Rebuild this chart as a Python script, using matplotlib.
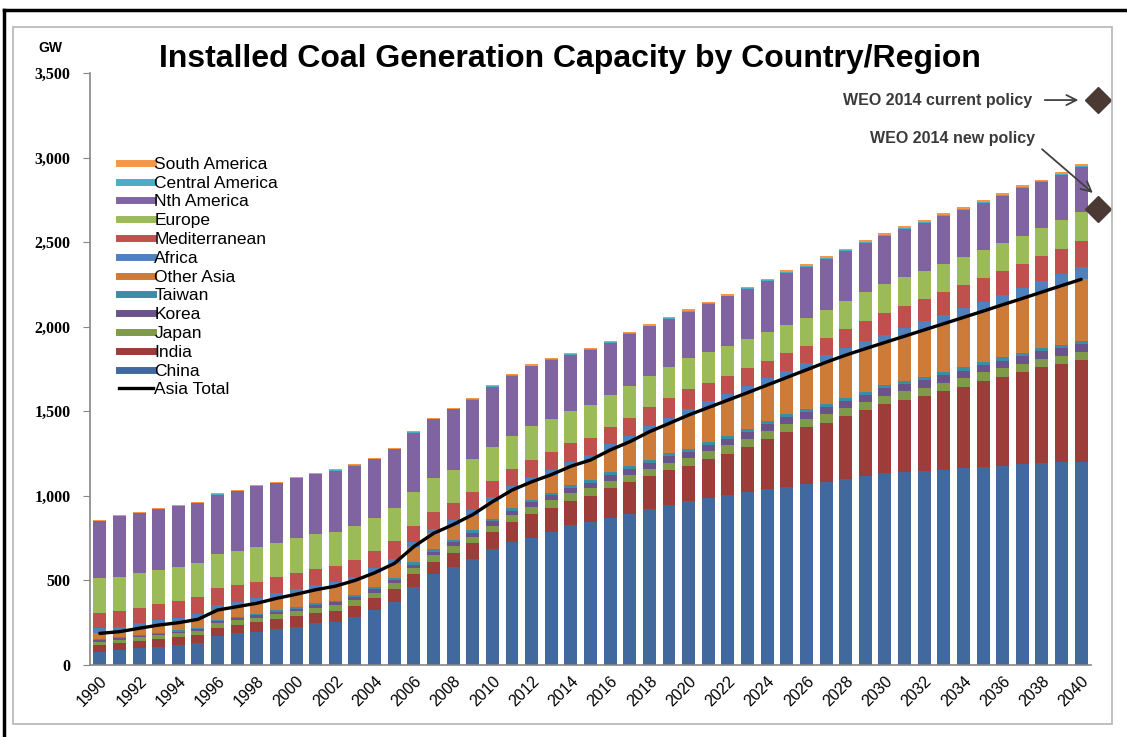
import matplotlib
matplotlib.use("Agg")
import matplotlib.pyplot as plt
from matplotlib.lines import Line2D
from matplotlib.patches import Rectangle
import numpy as np

# GW by year
years = list(range(1990, 2041))

china = [79, 89, 98, 108, 118, 128, 171, 187, 197, 213,
         227, 246, 256, 282, 325, 374, 463, 536, 577, 624,
         683, 729, 748, 788, 827, 847, 871, 895, 920, 946,
         969, 985, 1005, 1021, 1039, 1054, 1070, 1083, 1100, 1115,
         1137, 1140, 1145, 1152, 1162, 1168, 1175, 1190, 1195, 1198,
         1201]
india = [39, 40, 43, 44, 46, 48, 49, 50, 55, 57,
         60, 62, 64, 67, 69, 73, 73, 75, 87, 95,
         101, 114, 144, 143, 144, 152, 173, 185, 195, 204,
         208, 230, 245, 269, 296, 321, 335, 350, 370, 390,
         406, 428, 445, 468, 483, 512, 530, 540, 565, 582,
         602]
japan = [20, 21, 22, 23, 24, 25, 26, 27, 28, 29,
         30, 31, 32, 33, 34, 35, 36, 37, 38, 39,
         40, 41, 42, 43, 44, 45, 45, 46, 46, 47,
         47, 48, 48, 49, 49, 50, 50, 50, 50, 50,
         50, 50, 50, 50, 50, 50, 50, 50, 50, 49,
         49]
korea = [8, 8, 9, 9, 10, 11, 12, 13, 14, 15,
         15, 17, 18, 19, 20, 21, 22, 23, 24, 25,
         26, 27, 28, 29, 31, 32, 34, 35, 35, 36,
         36, 37, 37, 38, 38, 39, 40, 40, 41, 41,
         42, 42, 43, 43, 44, 44, 44, 45, 45, 45,
         45]
taiwan = [6, 6, 7, 7, 7, 8, 8, 9, 9, 10,
          10, 11, 11, 12, 12, 12, 13, 13, 14, 14,
          15, 15, 15, 16, 16, 16, 17, 17, 17, 18,
          18, 18, 19, 19, 19, 19, 20, 20, 20, 20,
          20, 20, 20, 20, 20, 20, 20, 20, 20, 20,
          20]
other_asia = [35, 33, 38, 45, 45, 50, 59, 59, 62, 70,
              76, 78, 85, 87, 85, 85, 93, 94, 90, 92,
              100, 108, 106, 106, 113, 120, 131, 142, 166, 177,
              200, 204, 212, 214, 214, 217, 230, 247, 251, 254,
              252, 264, 278, 285, 296, 298, 311, 322, 330, 349,
              363]
africa = [30, 30, 29, 29, 30, 30, 28, 28, 29, 29,
          29, 26, 22, 22, 26, 28, 28, 27, 30, 28,
          26, 25, 26, 27, 27, 32, 33, 34, 34, 35,
          35, 36, 37, 38, 39, 40, 41, 42, 43, 44,
          46, 48, 50, 52, 54, 56, 59, 62, 66, 70,
          75]
mediterranean = [88, 90, 92, 95, 98, 100, 100, 98, 97, 97,
                 98, 99, 100, 99, 103, 105, 94, 98, 98, 104,
                 94, 98, 103, 107, 108, 100, 105, 108, 110, 114,
                 118, 112, 108, 105, 103, 102, 102, 102, 110, 118,
                 126, 128, 130, 133, 136, 138, 140, 142, 145, 149,
                 153]
europe = [207, 205, 204, 203, 202, 201, 203, 202, 204, 203,
          203, 202, 200, 202, 197, 197, 201, 201, 197, 197,
          204, 197, 202, 197, 194, 192, 190, 189, 187, 185,
          183, 180, 177, 173, 170, 167, 165, 164, 168, 171,
          173, 171, 170, 168, 167, 167, 167, 167, 168, 168,
          168]
nth_america = [337, 356, 356, 357, 358, 356, 352, 353, 361, 352,
               355, 355, 359, 353, 344, 345, 350, 348, 356, 348,
               355, 355, 352, 349, 331, 327, 305, 306, 292, 284,
               274, 283, 291, 296, 304, 311, 302, 304, 294, 294,
               287, 287, 283, 286, 276, 278, 278, 282, 269, 269,
               268]
central_america = [3, 3, 3, 3, 3, 3, 3, 3, 3, 3,
                   4, 4, 4, 4, 4, 4, 4, 4, 4, 4,
                   4, 4, 4, 4, 4, 5, 5, 5, 5, 5,
                   5, 5, 5, 5, 5, 5, 5, 5, 5, 5,
                   6, 6, 6, 6, 6, 6, 6, 6, 6, 6,
                   6]
south_america = [5, 5, 5, 5, 5, 5, 5, 5, 5, 5,
                 6, 6, 6, 6, 6, 6, 6, 6, 6, 6,
                 7, 7, 7, 7, 7, 8, 8, 8, 8, 8,
                 9, 9, 9, 9, 9, 10, 10, 10, 10, 10,
                 10, 10, 10, 10, 11, 11, 11, 11, 11, 11,
                 11]

weo_current = 3340
weo_new = 2695

series = [
    ("China", china, "#41699E"),
    ("India", india, "#9D3D3A"),
    ("Japan", japan, "#7F9A48"),
    ("Korea", korea, "#69538A"),
    ("Taiwan", taiwan, "#3C8DA3"),
    ("Other Asia", other_asia, "#CC7B38"),
    ("Africa", africa, "#4F81BD"),
    ("Mediterranean", mediterranean, "#C0504D"),
    ("Europe", europe, "#9BBB59"),
    ("Nth America", nth_america, "#8064A2"),
    ("Central America", central_america, "#4BACC6"),
    ("South America", south_america, "#F79646"),
]
asia_names = ["China", "India", "Japan", "Korea", "Taiwan", "Other Asia"]

W, H = 1127, 737
fig = plt.figure(figsize=(W / 100, H / 100), dpi=100)
ax = fig.add_axes([90 / W, 1 - 665 / H, 1001 / W, 592 / H])

x = np.arange(len(years))
bottom = np.zeros(len(years))
asia_total = np.zeros(len(years))
for name, vals, col in series:
    v = np.array(vals, dtype=float)
    ax.bar(x, v, bottom=bottom, width=0.66, color=col, edgecolor="none", zorder=2)
    bottom += v
    if name in asia_names:
        asia_total += v

ax.plot(x, asia_total, color="black", lw=2.4, zorder=5, solid_capstyle="round")

# WEO 2014 markers just past the 2040 bar
xd = x[-1] + 0.87
ax.plot([xd, xd], [weo_current, weo_new], ls="none", marker="D", ms=13,
        color="#4B3A33", clip_on=False, zorder=6)

txt_kw = dict(fontsize=11.5, fontweight="bold", color="#3a3a3a",
              family=["Liberation Sans", "DejaVu Sans"])
ax.text(47.5, weo_current, "WEO 2014 current policy", ha="right", va="center", **txt_kw)
ax.text(47.65, 3115, "WEO 2014 new policy", ha="right", va="center", **txt_kw)
arr = dict(arrowstyle="->", lw=1.3, color="#404040", mutation_scale=18)
ax.annotate("", xy=(50.0, weo_current), xytext=(48.0, weo_current),
            arrowprops=arr, annotation_clip=False)
ax.annotate("", xy=(50.7, 2780), xytext=(47.9, 3060),
            arrowprops=arr, annotation_clip=False)

ax.set_xlim(-0.5, 50.5)
ax.set_ylim(0, 3500)
ax.set_yticks(range(0, 3501, 500))
ax.set_yticklabels([f"{v:,}" for v in range(0, 3501, 500)],
                   fontsize=11.5, fontweight="bold", family="Liberation Serif")
ax.set_xticks(x[::2])
ax.set_xticklabels([str(y) for y in years[::2]], rotation=45, ha="right",
                   rotation_mode="anchor", fontsize=11.5, family="Liberation Sans")
ax.tick_params(axis="y", length=5, color="#868686", pad=9)
ax.tick_params(axis="x", length=0, pad=6)
for s in ["top", "right"]:
    ax.spines[s].set_visible(False)
for s in ["left", "bottom"]:
    ax.spines[s].set_color("#868686")
    ax.spines[s].set_linewidth(1.2)

# legend, top series first
handles = [Line2D([], [], color=c, lw=5) for _, _, c in series[::-1]]
labels = [n for n, _, _ in series[::-1]]
handles.append(Line2D([], [], color="black", lw=2.4))
labels.append("Asia Total")
fig.legend(handles, labels, loc="upper left", bbox_to_anchor=(110 / W, 1 - 148 / H),
           frameon=False, borderpad=0, handlelength=1.95, handletextpad=0.1,
           labelspacing=0.21, prop={"family": "Liberation Sans", "size": 12.5})

fig.text(570 / W, 1 - 59 / H, "Installed Coal Generation Capacity by Country/Region",
         ha="center", va="center", fontsize=23, fontweight="bold",
         family="Liberation Sans")
fig.text(50 / W, 1 - 48 / H, "GW", ha="center", va="center", fontsize=10,
         fontweight="bold", family="Liberation Sans")

# chart frame and outer border
fig.add_artist(Rectangle((13 / W, 1 - 724 / H), 1099 / W, 697 / H,
                         transform=fig.transFigure, fill=False,
                         edgecolor="#b5b5b5", lw=1.2))
fig.add_artist(Line2D([4 / W, 1], [1 - 10 / H, 1 - 10 / H],
                      transform=fig.transFigure, color="black", lw=2.5))
fig.add_artist(Line2D([4 / W, 4 / W], [0, 1 - 10 / H],
                      transform=fig.transFigure, color="black", lw=2.5))

fig.savefig("out.png", dpi=100)
